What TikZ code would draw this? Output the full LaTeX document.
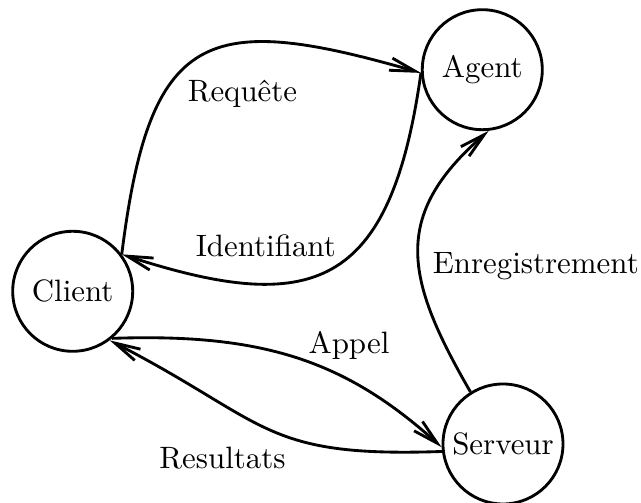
\documentclass[tikz,border=0pt]{standalone}
\usepackage{fontspec}
\usetikzlibrary{arrows.meta}
\begin{document}
\begin{tikzpicture}[x=0.3333pt,y=-0.3333pt,
  every node/.style={font=\fontsize{10.3}{12}\selectfont},
  state/.style={circle,draw,line width=0.95pt,minimum size=40pt,inner sep=0pt},
  conn/.style={line width=0.95pt,-{Straight Barb[length=8.5pt,width=4.2pt,line width=0.95pt]}},
  lab/.style={anchor=base,inner sep=0pt}]
\useasboundingbox (0,0) rectangle (641,503);
\node[state] (C) at (72.7,291.3) {Client};
\node[state] (A) at (482.3,69.7) {Agent};
\node[state] (S) at (503,444) {Serveur};
% Requete
\draw[conn] (C.37) .. controls +(28,-225) and +(-215,-62) .. (A.183);
% Identifiant
\draw[conn] (A.183) .. controls +(-30.6,217.8) and +(190.2,61.8) .. (C.37);
% Enregistrement
\draw[conn] (S.122) .. controls +(-65,-112.6) and +(-98.2,85.3) .. (A.-84);
% Appel
\draw[conn] (C.-50) .. controls +(150,-5.2) and +(-96.6,-87) .. (S.183);
% Resultats
\draw[conn] (S.187) .. controls +(-180,6.3) and +(160,82.6) .. (C.-53);
\node[lab] (lreq) at (242.5,102) {Requête};
\node[lab] (lid) at (265.8,256.7) {Identifiant};
\node[lab] (lenr) at (535.8,274) {Enregistrement};
\node[lab] (lapp) at (349,353.5) {Appel};
\node[lab] (lres) at (222.5,468.8) {Resultats};
\end{tikzpicture}
\end{document}
